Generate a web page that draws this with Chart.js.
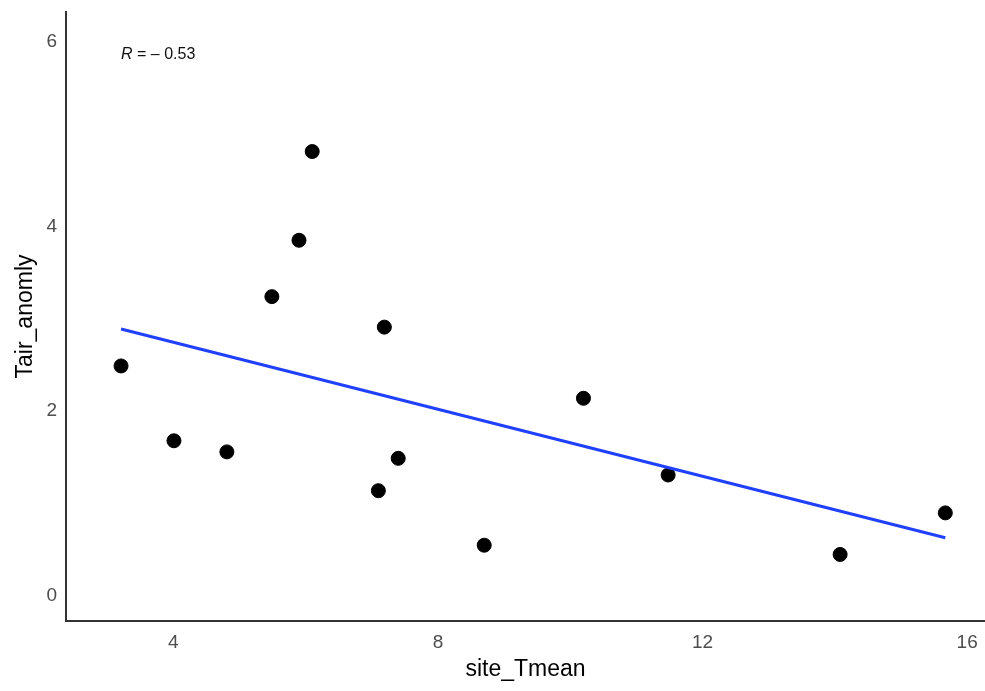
<!DOCTYPE html>
<html>
<head>
<meta charset="utf-8">
<script src="https://cdn.jsdelivr.net/npm/chart.js@4/dist/chart.umd.min.js"></script>
<style>
  html, body { margin: 0; padding: 0; background: #fff; }
  #wrap { width: 985px; height: 691px; }
</style>
</head>
<body>
<div id="wrap"><canvas id="c"></canvas></div>
<script>
// site mean temperature vs air temperature anomaly
var siteTmean = [3.21, 4.01, 4.81, 5.49, 5.90, 6.10, 7.10, 7.19, 7.40, 8.70, 10.20, 11.48, 14.08, 15.67];
var tairAnomaly = [2.49, 1.68, 1.56, 3.24, 3.85, 4.81, 1.14, 2.91, 1.49, 0.55, 2.14, 1.31, 0.45, 0.90];

// fitted line end points (lm)
var fitX = [3.21, 15.67];
var fitY = [2.89, 0.63];

var xTicks = [4, 8, 12, 16];
var yTicks = [0, 2, 4, 6];
var corrLabel = ['R', ' = \u2013 0.53'];

var points = siteTmean.map(function(x, i) { return { x: x, y: tairAnomaly[i] }; });
var fitLine = fitX.map(function(x, i) { return { x: x, y: fitY[i] }; });

function fixTicks(values) {
    return function(scale) {
        scale.ticks = values.map(function(v) { return { value: v }; });
    };
}

// draws the "R = -0.53" note inside the panel
var corrNote = {
    id: 'corrNote',
    afterDatasetsDraw: function(chart) {
        var ctx = chart.ctx;
        var px = chart.scales.x.getPixelForValue(3.21);
        var py = chart.scales.y.getPixelForValue(5.86);
        ctx.save();
        ctx.fillStyle = '#111';
        ctx.textBaseline = 'middle';
        ctx.font = 'italic 16px "Liberation Sans", Arial, sans-serif';
        ctx.fillText(corrLabel[0], px, py);
        var w = ctx.measureText(corrLabel[0]).width;
        ctx.font = '16px "Liberation Sans", Arial, sans-serif';
        ctx.fillText(corrLabel[1], px + w, py);
        ctx.restore();
    }
};

var axisFont = { family: '"Liberation Sans", Arial, sans-serif', size: 19 };
var titleFont = { family: '"Liberation Sans", Arial, sans-serif', size: 23 };

new Chart(document.getElementById('c').getContext('2d'), {
    type: 'scatter',
    data: {
        datasets: [{
            type: 'line',
            data: fitLine,
            borderColor: '#2040ff',
            borderWidth: 3,
            pointRadius: 0,
            fill: false
        }, {
            data: points,
            backgroundColor: '#000',
            borderColor: '#000',
            pointRadius: 7,
            pointHoverRadius: 7
        }]
    },
    options: {
        responsive: true,
        maintainAspectRatio: false,
        animation: false,
        layout: { autoPadding: false, padding: { top: 12, right: 0, left: 0, bottom: 0 } },
        plugins: { legend: { display: false }, tooltip: { enabled: false } },
        scales: {
            x: {
                type: 'linear',
                min: 2.378,
                max: 16.27,
                afterBuildTicks: fixTicks(xTicks),
                afterFit: function(s) { s.height = 70; s.paddingLeft = 0; s.paddingRight = 0; },
                grid: { display: true, color: 'transparent', drawTicks: false },
                border: { display: true, color: '#333', width: 2 },
                ticks: { color: '#4d4d4d', font: axisFont, padding: 10 },
                title: { display: true, text: 'site_Tmean', color: '#000', font: titleFont, padding: { top: 0, bottom: 8 } }
            },
            y: {
                type: 'linear',
                min: -0.27,
                max: 6.32,
                afterBuildTicks: fixTicks(yTicks),
                afterFit: function(s) { s.width = 66; s.paddingTop = 0; s.paddingBottom = 0; },
                grid: { display: true, color: 'transparent', drawTicks: false },
                border: { display: true, color: '#333', width: 2 },
                ticks: { color: '#4d4d4d', font: axisFont, padding: 9 },
                title: { display: true, text: 'Tair_anomly', color: '#000', font: titleFont, padding: { top: 12, bottom: 0 } }
            }
        }
    },
    plugins: [corrNote]
});
</script>
</body>
</html>
